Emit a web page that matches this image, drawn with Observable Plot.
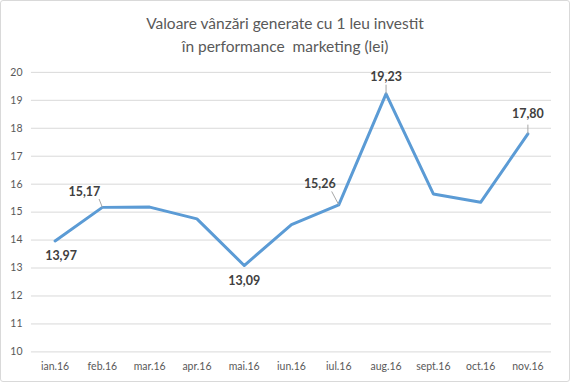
<!DOCTYPE html>
<html>
<head>
<meta charset="utf-8">
<script src="https://cdn.jsdelivr.net/npm/d3@7"></script>
<script src="https://cdn.jsdelivr.net/npm/@observablehq/plot@0.6"></script>
<style>
  html, body { margin: 0; padding: 0; background: #fff; }
  #wrap { position: relative; width: 570px; height: 382px; box-sizing: border-box; border: 1px solid #d9d9d9; border-radius: 3px; overflow: hidden; font-family: Lato, "Open Sans", sans-serif; }
  #title { position: absolute; top: 11px; left: 0; width: 100%; text-align: center; font-size: 15.5px; line-height: 23px; color: #595959; }
  #chart { position: absolute; top: -1px; left: -1px; }
</style>
</head>
<body>
<div id="wrap">
  <div id="title">Valoare vânzări generate cu 1 leu investit<br>în performance&nbsp; marketing (lei)</div>
  <div id="chart"></div>
</div>
<script>
const months = ["ian.16","feb.16","mar.16","apr.16","mai.16","iun.16","iul.16","aug.16","sept.16","oct.16","nov.16"];
const values = [13.97, 15.17, 15.18, 14.76, 13.09, 14.55, 15.26, 19.23, 15.65, 15.35, 17.80];
const labelled = ["ian.16","feb.16","mai.16","iul.16","aug.16","nov.16"];
const yTicks = [10,11,12,13,14,15,16,17,18,19,20];

const data = months.map((m, i) => ({month: m, i, value: values[i]}));
const fmt = v => v.toFixed(2).replace(".", ",");
const byMonth = m => data.find(d => d.month === m);

// label placement (pixel offsets) and leader lines, per labelled month
const place = {
  "ian.16": {dx: 6, dy: 15, lead: null},
  "feb.16": {dx: -18, dy: -15, lead: [-0.07, 0.3]},
  "mai.16": {dx: 0, dy: 16, lead: null},
  "iul.16": {dx: -19, dy: -21, lead: [-0.15, 0.48]},
  "aug.16": {dx: 0, dy: -17, lead: [0, 0.33]},
  "nov.16": {dx: 0, dy: -20, lead: [0, 0.33]}
};

const labelMarks = labelled.map(m => {
  const d = byMonth(m), p = place[m];
  return Plot.text([d], {
    x: "i", y: "value", text: d => fmt(d.value),
    dx: p.dx, dy: p.dy, fontWeight: "bold", fontSize: 12.5, fill: "#404040"
  });
});
const leaders = labelled.filter(m => place[m].lead).map(m => {
  const d = byMonth(m), p = place[m];
  return Plot.link([d], {
    x1: d => d.i, y1: d => d.value,
    x2: d => d.i + p.lead[0], y2: d => d.value + p.lead[1],
    stroke: "#a6a6a6", strokeWidth: 1
  });
});

const chart = Plot.plot({
  width: 570,
  height: 382,
  marginTop: 72,
  marginBottom: 30,
  marginLeft: 31,
  marginRight: 18,
  style: {fontFamily: "Lato, 'Open Sans', sans-serif", fontSize: "10.5px", color: "#595959", background: "transparent"},
  x: {domain: [-0.5, 10.5], ticks: d3.range(months.length), tickFormat: i => months[i], tickSize: 0, tickPadding: 11, label: null},
  y: {domain: [10, 20], ticks: yTicks, tickFormat: d => d, tickSize: 0, tickPadding: 9, label: null},
  marks: [
    Plot.gridY(yTicks, {stroke: "#d9d9d9", strokeOpacity: 1, strokeWidth: 1}),
    Plot.axisY({ticks: yTicks, tickSize: 0, tickPadding: 9, label: null, fill: "#595959"}),
    Plot.axisX({ticks: d3.range(months.length), tickFormat: i => months[i], tickSize: 0, tickPadding: 11, label: null, fill: "#595959"}),
    Plot.line(data, {x: "i", y: "value", stroke: "#5b9bd5", strokeWidth: 3, strokeLinejoin: "round", strokeLinecap: "round"}),
    ...leaders,
    ...labelMarks
  ]
});
document.getElementById("chart").appendChild(chart);
</script>
</body>
</html>
